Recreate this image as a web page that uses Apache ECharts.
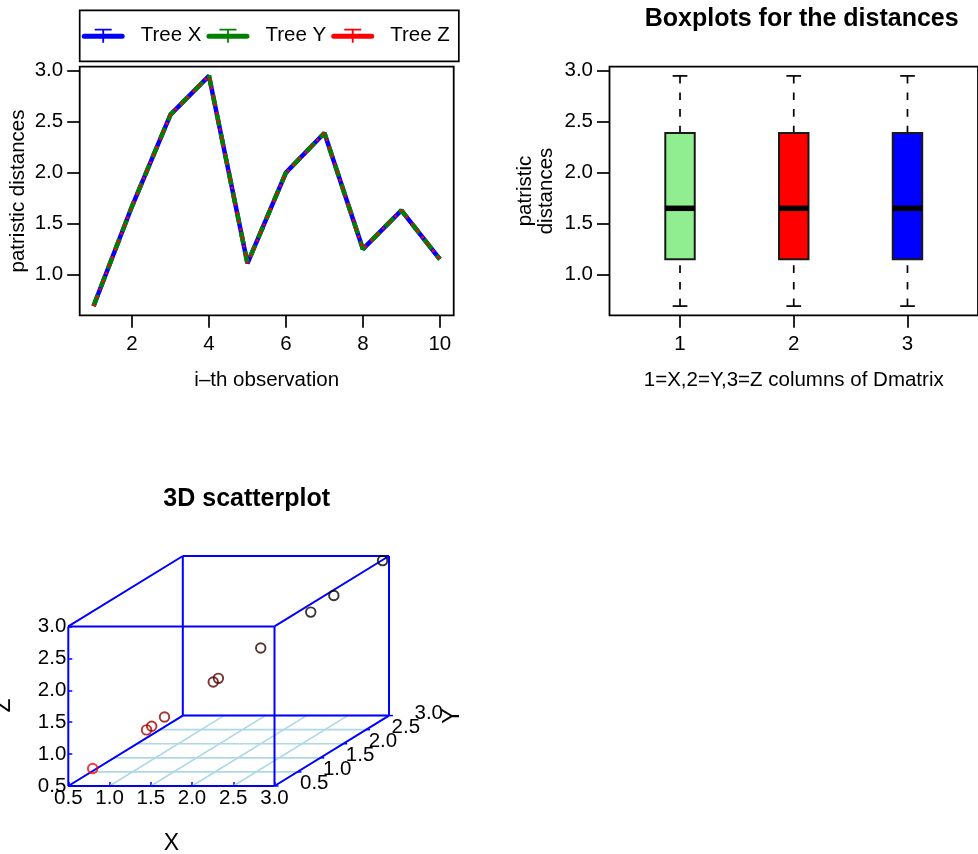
<!DOCTYPE html>
<html><head><meta charset="utf-8">
<script src="https://cdn.jsdelivr.net/npm/echarts@6/dist/echarts.min.js"></script>
<style>html,body{margin:0;padding:0;background:#fff}#c{width:978px;height:854px}</style>
</head><body><div id="c"></div>
<script>
// ---------- data ----------
const observations = [1, 2, 3, 4, 5, 6, 7, 8, 9, 10];
const treeX = [0.69, 1.67, 2.57, 2.95, 1.11, 2.00, 2.39, 1.25, 1.63, 1.15];
const treeY = [0.69, 1.67, 2.57, 2.95, 1.11, 2.00, 2.39, 1.25, 1.63, 1.15];
const treeZ = [0.69, 1.67, 2.57, 2.95, 1.11, 2.00, 2.39, 1.25, 1.63, 1.15];
const seriesNames = ['Tree X', 'Tree Y', 'Tree Z'];
const lineXTicks = [2, 4, 6, 8, 10];
const distTicks = [1.0, 1.5, 2.0, 2.5, 3.0];

const boxCategories = [1, 2, 3];
const boxMin = [0.69, 0.69, 0.69];
const boxQ1 = [1.15, 1.15, 1.15];
const boxMedian = [1.65, 1.65, 1.65];
const boxQ3 = [2.39, 2.39, 2.39];
const boxMax = [2.95, 2.95, 2.95];

const scatterTicks = [0.5, 1.0, 1.5, 2.0, 2.5, 3.0];

// ---------- styles ----------
const FONT = '"Liberation Sans", Arial, Helvetica, sans-serif';
const FS = 20.5;
const lineColors = ['#0000FF', '#008000', '#FF0000'];
const boxColors = ['#90EE90', '#FF0000', '#0000FF'];
const BLUE = '#0000FF';
const BOX_W = 0.259;

// oblique projection for the 3D panel (x horizontal, z vertical, y receding)
const R3 = [0.5, 3.0];
const KU = 0.5553, KW = 0.4414;
function proj(x, y, z) { return [x + (y - R3[0]) * KU, z + (y - R3[0]) * KW]; }
const U_MAX = R3[1] + (R3[1] - R3[0]) * KU;
const W_MAX = R3[1] + (R3[1] - R3[0]) * KW;

const chart = echarts.init(document.getElementById('c'), null, {renderer: 'canvas'});

const legendIcon = 'path://M2.5 5 L40.5 5 A2.5 2.5 0 0 1 40.5 10 L2.5 10 A2.5 2.5 0 0 1 2.5 5 Z M13 0 L30 0 L30 1.8 L13 1.8 Z M20.6 0 L22.4 0 L22.4 14 L20.6 14 Z';

const fmt1 = v => Number(v).toFixed(1);
const txt = {fontFamily: FONT, fontSize: FS, color: '#000'};
const tickStyle = {color: '#000', width: 1.7};

// point colours: red (front) to black (back)
const yMin = Math.min(...treeY), yMax = Math.max(...treeY);
function pointColor(y) {
  const r = Math.pow((yMax - y) / (yMax - yMin), 2);
  return 'rgb(' + Math.round(255 * r) + ',0,0)';
}

function axis(extra, ticks, labelFmt, margin) {
  return Object.assign({
    type: 'value',
    axisLine: {show: false},
    splitLine: {show: false},
    axisTick: {show: true, length: 12.5, lineStyle: tickStyle, customValues: ticks},
    axisLabel: Object.assign({margin: margin, customValues: ticks, formatter: labelFmt}, txt),
    nameTextStyle: txt
  }, extra);
}

const option = {
  animation: false,
  backgroundColor: '#fff',
  textStyle: {fontFamily: FONT},
  title: [
    {text: 'Boxplots for the distances', left: 796.7, top: 2, textAlign: 'center',
     textStyle: {fontFamily: FONT, fontSize: 25, fontWeight: 'bold', color: '#000'}},
    {text: '3D scatterplot', left: 241.7, top: 482, textAlign: 'center',
     textStyle: {fontFamily: FONT, fontSize: 25, fontWeight: 'bold', color: '#000'}}
  ],
  legend: {
    left: 79.7, top: 10.3,
    orient: 'horizontal',
    padding: [15, 9, 15, 2],
    itemWidth: 43, itemHeight: 14, itemGap: 5,
    borderColor: '#000', borderWidth: 1.7,
    icon: legendIcon,
    itemStyle: {borderWidth: 0},
    textStyle: {fontFamily: FONT, fontSize: FS, color: '#000', padding: [0, 0, 0, 11]},
    data: seriesNames
  },
  grid: [
    {left: 79.7, top: 66.7, width: 374, height: 248.6, show: true, borderColor: '#000', borderWidth: 1.8, backgroundColor: 'transparent'},
    {left: 609.5, top: 66.7, width: 374.2, height: 248.6, show: true, borderColor: '#000', borderWidth: 1.8, backgroundColor: 'transparent'},
    {left: 68.3, top: 556, width: 320.7, height: 230}
  ],
  xAxis: [
    axis({gridIndex: 0, min: 0.64, max: 10.36,
      name: 'i\u2013th observation', nameLocation: 'middle', nameGap: 55}, lineXTicks, v => String(v), 18.5),
    axis({gridIndex: 1, min: 0.38, max: 3.62,
      name: '1=X,2=Y,3=Z columns of Dmatrix', nameLocation: 'middle', nameGap: 55}, boxCategories, v => String(v), 18.5),
    {type: 'value', gridIndex: 2, min: R3[0], max: U_MAX,
      axisLine: {show: false}, splitLine: {show: false},
      axisTick: {show: true, inside: true, length: 4, lineStyle: {color: BLUE, width: 1.5}, customValues: scatterTicks},
      axisLabel: Object.assign({margin: 2, customValues: scatterTicks, formatter: fmt1}, txt)}
  ],
  yAxis: [
    axis({gridIndex: 0, min: 0.5996, max: 3.0404,
      name: 'patristic distances', nameLocation: 'middle', nameGap: 51}, distTicks, fmt1, 16.5),
    axis({gridIndex: 1, min: 0.5996, max: 3.0404,
      name: 'patristic\ndistances', nameLocation: 'middle', nameGap: 52,
      nameTextStyle: Object.assign({lineHeight: 21.7}, txt)}, distTicks, fmt1, 16.5),
    {type: 'value', gridIndex: 2, min: R3[0], max: W_MAX,
      axisLine: {show: false}, splitLine: {show: false},
      axisTick: {show: true, inside: true, length: 4, lineStyle: {color: BLUE, width: 1.5}, customValues: scatterTicks},
      axisLabel: Object.assign({margin: 2, customValues: scatterTicks, formatter: fmt1}, txt)}
  ],
  graphic: [
    {type: 'text', x: 171.5, y: 843.5,
     style: {text: 'X', font: '23px ' + FONT, fill: '#000', align: 'center', verticalAlign: 'middle'}},
    {type: 'text', x: 3.5, y: 705.5, rotation: Math.PI / 2,
     style: {text: 'Z', font: '23px ' + FONT, fill: '#000', align: 'center', verticalAlign: 'middle'}},
    {type: 'text', x: 453, y: 716, rotation: Math.PI / 2,
     style: {text: 'Y', font: '23px ' + FONT, fill: '#000', align: 'center', verticalAlign: 'middle'}}
  ],
  series: [
    {name: seriesNames[0], type: 'line', xAxisIndex: 0, yAxisIndex: 0, symbol: 'none',
     data: observations.map((o, i) => [o, treeX[i]]),
     lineStyle: {color: lineColors[0], width: 4.5, type: 'solid'}, itemStyle: {color: lineColors[0]}, z: 2},
    {name: seriesNames[1], type: 'line', xAxisIndex: 0, yAxisIndex: 0, symbol: 'none',
     data: observations.map((o, i) => [o, treeY[i]]),
     lineStyle: {color: lineColors[1], width: 4.5, type: [12, 8]}, itemStyle: {color: lineColors[1]}, z: 3},
    {name: seriesNames[2], type: 'line', xAxisIndex: 0, yAxisIndex: 0, symbol: 'none',
     data: observations.map((o, i) => [o, treeZ[i]]),
     lineStyle: {color: lineColors[2], width: 2.5, type: [2.5, 6]}, itemStyle: {color: lineColors[2]}, z: 4},
    // boxplots
    {type: 'custom', xAxisIndex: 1, yAxisIndex: 1,
     data: boxCategories.map((c, i) => [c, boxMin[i], boxQ1[i], boxMedian[i], boxQ3[i], boxMax[i]]),
     encode: {x: 0, y: [1, 2, 3, 4, 5]},
     renderItem: function (params, api) {
       const x = api.value(0);
       const w = api.size([BOX_W, 0])[0];
       const pMin = api.coord([x, api.value(1)]);
       const pQ1 = api.coord([x, api.value(2)]);
       const pMed = api.coord([x, api.value(3)]);
       const pQ3 = api.coord([x, api.value(4)]);
       const pMax = api.coord([x, api.value(5)]);
       const cx = pMin[0];
       const wl = {stroke: '#000', lineWidth: 1.7, lineDash: [7.6, 9]};
       const sl = {stroke: '#000', lineWidth: 1.7};
       return {type: 'group', children: [
         {type: 'line', shape: {x1: cx, y1: pMax[1], x2: cx, y2: pQ3[1]}, style: wl},
         {type: 'line', shape: {x1: cx, y1: pMin[1], x2: cx, y2: pQ1[1]}, style: wl},
         {type: 'line', shape: {x1: cx - w / 4, y1: pMax[1], x2: cx + w / 4, y2: pMax[1]}, style: sl},
         {type: 'line', shape: {x1: cx - w / 4, y1: pMin[1], x2: cx + w / 4, y2: pMin[1]}, style: sl},
         {type: 'rect', shape: {x: cx - w / 2, y: pQ3[1], width: w, height: pQ1[1] - pQ3[1]},
          style: {fill: boxColors[params.dataIndex], stroke: '#1a1a1a', lineWidth: 2}},
         {type: 'line', shape: {x1: cx - w / 2, y1: pMed[1], x2: cx + w / 2, y2: pMed[1]},
          style: {stroke: '#000', lineWidth: 5.5}}
       ]};
     }},
    // 3D box, floor grid, receding Y axis
    {type: 'custom', xAxisIndex: 2, yAxisIndex: 2, data: [[0]], silent: true, z: 1,
     renderItem: function (params, api) {
       const P = (x, y, z) => api.coord(proj(x, y, z));
       const seg = (a, b, style) => ({type: 'line', shape: {x1: a[0], y1: a[1], x2: b[0], y2: b[1]}, style: style});
       const lo = R3[0], hi = R3[1];
       const children = [];
       const gridStyle = {stroke: '#ADD8E6', lineWidth: 1.6};
       scatterTicks.forEach(t => {
         children.push(seg(P(t, lo, lo), P(t, hi, lo), gridStyle));
         children.push(seg(P(lo, t, lo), P(hi, t, lo), gridStyle));
       });
       const edgeStyle = {stroke: BLUE, lineWidth: 2};
       const c = [lo, hi];
       // 12 edges of the cube
       for (const y of c) for (const z of c) children.push(seg(P(lo, y, z), P(hi, y, z), edgeStyle));
       for (const x of c) for (const z of c) children.push(seg(P(x, lo, z), P(x, hi, z), edgeStyle));
       for (const x of c) for (const y of c) children.push(seg(P(x, y, lo), P(x, y, hi), edgeStyle));
       // Y ticks and labels
       scatterTicks.forEach(t => {
         const p = P(hi, t, lo);
         children.push(seg(p, [p[0] + 4, p[1]], {stroke: BLUE, lineWidth: 1.5}));
         children.push({type: 'text', x: p[0] + 25.5, y: p[1] - 2.5,
           style: {text: fmt1(t), font: FS + 'px ' + FONT, fill: '#000', align: 'left', verticalAlign: 'middle'}});
       });
       return {type: 'group', children: children};
     }},
    {type: 'scatter', xAxisIndex: 2, yAxisIndex: 2, symbol: 'circle', symbolSize: 9.5, z: 5,
     data: treeX.map((x, i) => ({
       value: proj(x, treeY[i], treeZ[i]),
       itemStyle: {color: 'rgba(0,0,0,0)', borderColor: pointColor(treeY[i]), borderWidth: 1.9}
     }))}
  ]
};
chart.setOption(option);
</script>
</body></html>
